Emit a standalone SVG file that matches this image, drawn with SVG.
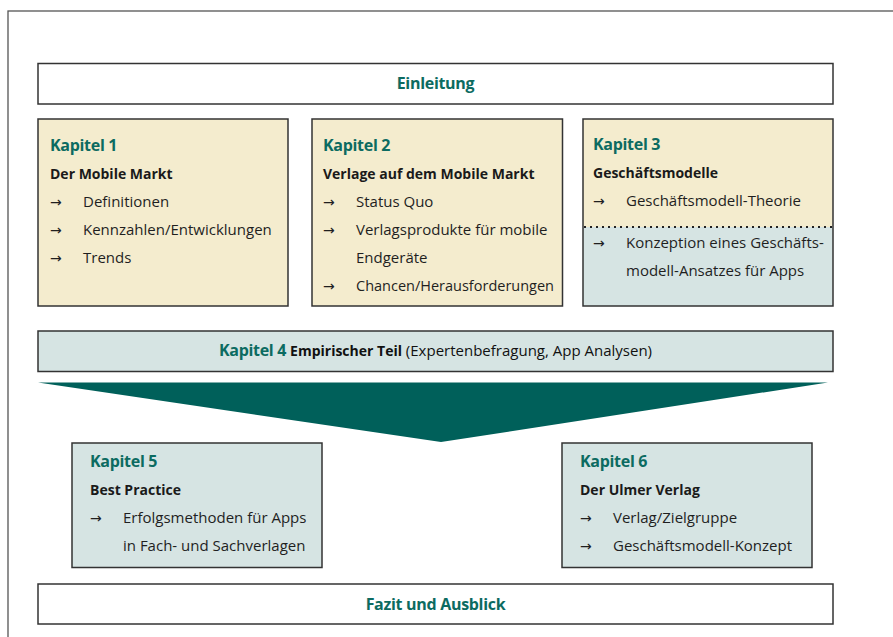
<svg xmlns="http://www.w3.org/2000/svg" width="893" height="637" viewBox="0 0 893 637">
<style>
.box{stroke:#333;stroke-width:1.5}
.cream{fill:#f4ecce}
.blue{fill:#d6e4e3}
.white{fill:#fff}
.t{font-family:"Open Sans","Liberation Sans",sans-serif;fill:#111}
.h{font-family:"Open Sans","Liberation Sans",sans-serif;font-weight:bold;fill:#0c6b61;font-size:16px;letter-spacing:-0.3px}
.b{font-family:"Open Sans","Liberation Sans",sans-serif;font-weight:bold;fill:#1a1a1a;font-size:14px}
.i{font-family:"Open Sans","Liberation Sans",sans-serif;fill:#1f1f1f;font-size:15px}
.a{font-family:"DejaVu Sans","Liberation Sans",sans-serif;fill:#1f1f1f;font-size:14px}
</style>
<rect width="893" height="637" fill="#fff"/>
<rect x="8" y="11" width="900" height="640" fill="none" stroke="#555" stroke-width="1.3"/>
<g id="einleitung">
<rect class="box white" x="38" y="63.5" width="795" height="40.5"/>
<text class="h" x="435.5" y="89" text-anchor="middle">Einleitung</text>
</g>
<g id="kapitel1">
<rect class="box cream" x="38" y="119" width="250" height="187"/>
<text class="h" x="50" y="151">Kapitel 1</text>
<text class="b" x="50" y="179">Der Mobile Markt</text>
<text class="a" x="50" y="207">→</text><text class="i" x="83" y="207">Definitionen</text>
<text class="a" x="50" y="235">→</text><text class="i" x="83" y="235">Kennzahlen/Entwicklungen</text>
<text class="a" x="50" y="263">→</text><text class="i" x="83" y="263">Trends</text>
</g>
<g id="kapitel2">
<rect class="box cream" x="312" y="119" width="250.5" height="187"/>
<text class="h" x="323" y="151">Kapitel 2</text>
<text class="b" x="323" y="179">Verlage auf dem Mobile Markt</text>
<text class="a" x="323" y="207">→</text><text class="i" x="356" y="207">Status Quo</text>
<text class="a" x="323" y="235">→</text><text class="i" x="356" y="235">Verlagsprodukte für mobile</text>
<text class="i" x="356" y="263">Endgeräte</text>
<text class="a" x="323" y="291">→</text><text class="i" x="356" y="291" textLength="198" lengthAdjust="spacingAndGlyphs">Chancen/Herausforderungen</text>
</g>
<g id="kapitel3">
<rect class="cream" x="583" y="119" width="250" height="108"/>
<rect class="blue" x="583" y="227" width="250" height="79"/>
<rect class="box" fill="none" x="583" y="119" width="250" height="187"/>
<line x1="584" y1="227" x2="833" y2="227" stroke="#222" stroke-width="2" stroke-dasharray="2 4"/>
<text class="h" x="593" y="150">Kapitel 3</text>
<text class="b" x="593" y="178">Geschäftsmodelle</text>
<text class="a" x="593" y="206">→</text><text class="i" x="626" y="206">Geschäftsmodell-Theorie</text>
<text class="a" x="593" y="248">→</text><text class="i" x="626" y="248">Konzeption eines Geschäfts-</text>
<text class="i" x="626" y="276">modell-Ansatzes für Apps</text>
</g>
<g id="kapitel4">
<rect class="box blue" x="38" y="331" width="795" height="40.5"/>
<text x="435.5" y="356" text-anchor="middle" class="t" font-size="15"><tspan class="h">Kapitel 4</tspan> <tspan font-weight="bold" font-size="14">Empirischer Teil</tspan> (Expertenbefragung, App Analysen)</text>
</g>
<g id="connectors">
<polygon points="38,382.5 828,382.5 441,442" fill="#00605a"/>
</g>
<g id="kapitel5">
<rect class="box blue" x="72" y="443" width="250" height="124.5"/>
<text class="h" x="90" y="467">Kapitel 5</text>
<text class="b" x="90" y="495">Best Practice</text>
<text class="a" x="90" y="523">→</text><text class="i" x="123" y="523">Erfolgsmethoden für Apps</text>
<text class="i" x="123" y="551">in Fach- und Sachverlagen</text>
</g>
<g id="kapitel6">
<rect class="box blue" x="562" y="443" width="250" height="124.5"/>
<text class="h" x="580" y="467">Kapitel 6</text>
<text class="b" x="580" y="495">Der Ulmer Verlag</text>
<text class="a" x="580" y="523">→</text><text class="i" x="613" y="523">Verlag/Zielgruppe</text>
<text class="a" x="580" y="551">→</text><text class="i" x="613" y="551">Geschäftsmodell-Konzept</text>
</g>
<g id="fazit">
<rect class="box white" x="38" y="584" width="795" height="40"/>
<text class="h" x="435.5" y="610" text-anchor="middle">Fazit und Ausblick</text>
</g>
</svg>
